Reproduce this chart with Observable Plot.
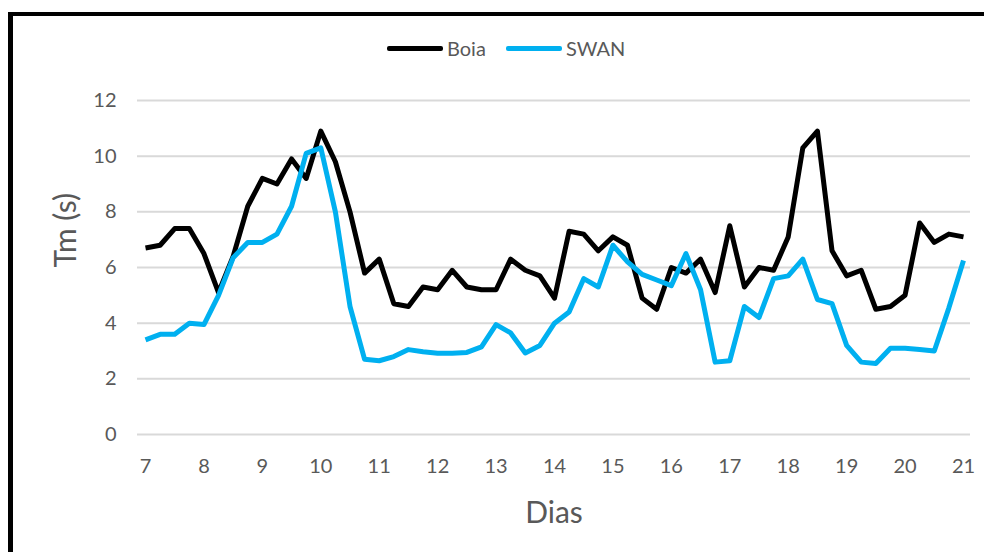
<!DOCTYPE html>
<html>
<head>
<meta charset="utf-8">
<script src="https://cdn.jsdelivr.net/npm/d3@7"></script>
<script src="https://cdn.jsdelivr.net/npm/@observablehq/plot@0.6"></script>
<style>
  html, body { margin: 0; padding: 0; background: #fff; }
  #wrap { position: relative; width: 984px; height: 552px; overflow: hidden; font-family: Lato, "Open Sans", sans-serif; }
  #frame { position: absolute; left: 8px; top: 12px; width: 1000px; height: 600px; border-top: 4px solid #000; border-left: 5px solid #000; box-sizing: border-box; pointer-events: none; }
  #legend { position: absolute; top: 36px; left: 387px; display: flex; align-items: center; font-size: 20px; color: #595959; }
  .sw { display: inline-block; width: 56px; height: 5px; border-radius: 2px; margin-right: 4px; }
  .item { display: flex; align-items: center; margin-right: 20px; }
  #chart { position: absolute; left: 0; top: 0; }
</style>
</head>
<body>
<div id="wrap">
  <div id="chart"></div>
  <div id="frame"></div>
  <div id="legend"></div>
</div>
<script>
// Days at 6-hour steps
const days = d3.range(0, 57).map(i => 7 + i * 0.25);
const boia = [6.7, 6.8, 7.4, 7.4, 6.5, 5.1, 6.4, 8.2, 9.2, 9.0, 9.9, 9.2, 10.9, 9.8, 8.0, 5.8, 6.3, 4.7, 4.6, 5.3, 5.2, 5.9, 5.3, 5.2, 5.2, 6.3, 5.9, 5.7, 4.9, 7.3, 7.2, 6.6, 7.1, 6.8, 4.9, 4.5, 6.0, 5.8, 6.3, 5.1, 7.5, 5.3, 6.0, 5.9, 7.1, 10.3, 10.9, 6.6, 5.7, 5.9, 4.5, 4.6, 5.0, 7.6, 6.9, 7.2, 7.1];
const swan = [3.4, 3.6, 3.6, 4.0, 3.95, 5.0, 6.35, 6.9, 6.9, 7.2, 8.2, 10.1, 10.3, 8.0, 4.6, 2.7, 2.65, 2.8, 3.05, 2.97, 2.92, 2.92, 2.95, 3.15, 3.95, 3.65, 2.93, 3.2, 4.0, 4.4, 5.6, 5.3, 6.8, 6.2, 5.75, 5.55, 5.35, 6.5, 5.2, 2.6, 2.65, 4.6, 4.2, 5.6, 5.7, 6.3, 4.85, 4.7, 3.2, 2.6, 2.55, 3.1, 3.1, 3.05, 3.0, 4.55, 6.25];
const xTicks = d3.range(7, 22);
const yTicks = [0, 2, 4, 6, 8, 10, 12];
const seriesNames = ["Boia", "SWAN"];
const colors = ["#000000", "#00b0f0"];

const data = [];
days.forEach((d, i) => {
  data.push({day: d, value: boia[i], series: "Boia"});
  data.push({day: d, value: swan[i], series: "SWAN"});
});

const grey = "#595959";
const chart = Plot.plot({
  width: 984,
  height: 552,
  marginTop: 100,
  marginBottom: 118,
  marginLeft: 137,
  marginRight: 14,
  style: {fontFamily: "Lato, 'Open Sans', sans-serif", fontSize: "20px", color: grey, background: "transparent"},
  x: {domain: [6.863, 21.12], ticks: xTicks, label: null},
  y: {domain: [0, 12], ticks: yTicks, label: null},
  color: {domain: seriesNames, range: colors},
  marks: [
    Plot.ruleY(yTicks, {stroke: "#d9d9d9", strokeWidth: 2}),
    Plot.axisY({ticks: yTicks, tickSize: 0, tickPadding: 21, label: null, fill: grey, fontSize: 20}),
    Plot.axisX({ticks: xTicks, tickSize: 0, tickPadding: 24, label: null, fill: grey, fontSize: 20, tickFormat: d => String(d)}),
    Plot.line(data, {x: "day", y: "value", z: "series", stroke: "series", strokeWidth: 5, strokeLinejoin: "round", strokeLinecap: "butt"}),
    Plot.text(["Dias"], {frameAnchor: "bottom", dy: 88, fontSize: 30, fill: grey}),
    Plot.text(["Tm (s)"], {frameAnchor: "left", dx: -71, rotate: -90, fontSize: 30, fill: grey})
  ]
});
document.getElementById("chart").appendChild(chart);

const legend = document.getElementById("legend");
seriesNames.forEach((name, i) => {
  const item = document.createElement("span");
  item.className = "item";
  const sw = document.createElement("span");
  sw.className = "sw";
  sw.style.background = colors[i];
  item.appendChild(sw);
  item.appendChild(document.createTextNode(name));
  legend.appendChild(item);
});
</script>
</body>
</html>
